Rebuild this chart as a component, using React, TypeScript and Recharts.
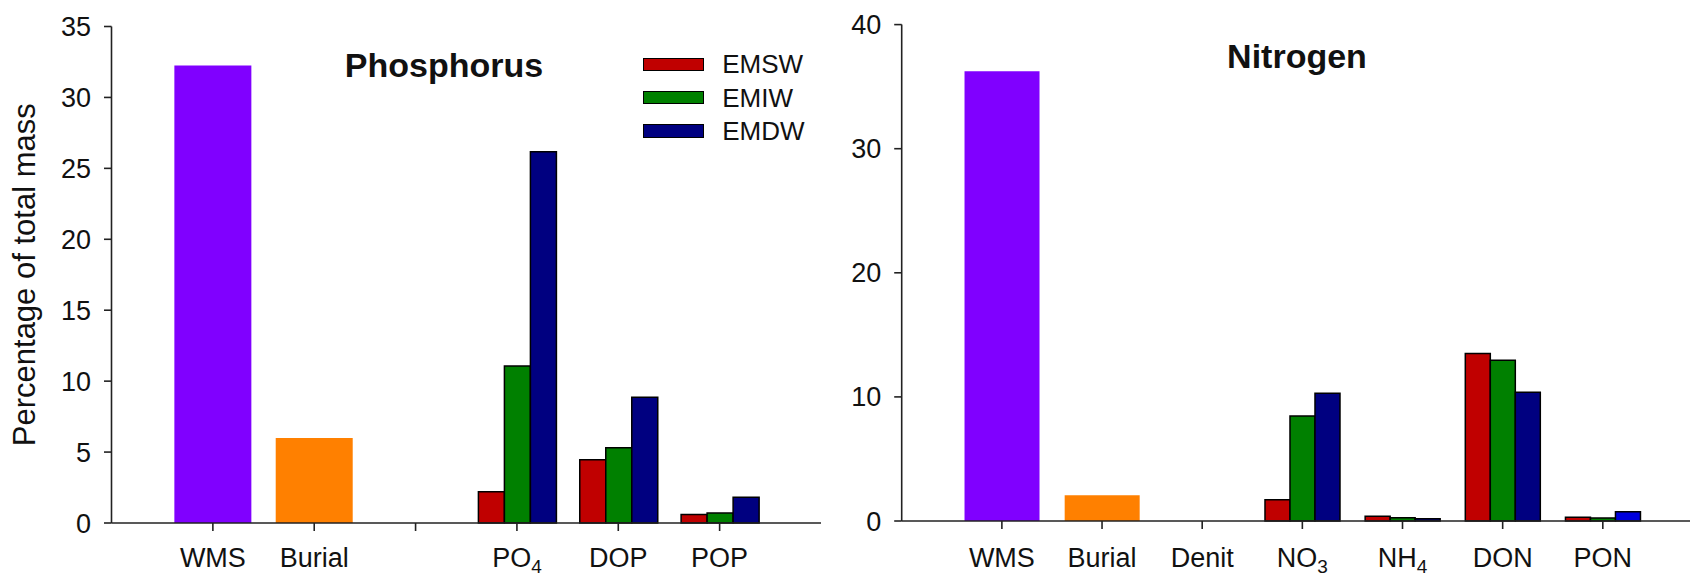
import React from 'react';
import { BarChart, Bar, XAxis, YAxis, Cell, Legend } from 'recharts';

const FONT = '"Liberation Sans", Arial, Helvetica, sans-serif';
const INK = '#111111';

// ---- Phosphorus panel ----
const pCategories = ['WMS', 'Burial', '', 'PO4', 'DOP', 'POP'];
const pSingle = [32.25, 6.0, null, null, null, null];
const pEMSW = [null, null, null, 2.2, 4.45, 0.6];
const pEMIW = [null, null, null, 11.07, 5.3, 0.7];
const pEMDW = [null, null, null, 26.17, 8.87, 1.81];
const pYTicks = [0, 5, 10, 15, 20, 25, 30, 35];

// ---- Nitrogen panel ----
const nCategories = ['WMS', 'Burial', 'Denit', 'NO3', 'NH4', 'DON', 'PON'];
const nSingle = [36.25, 2.08, null, null, null, null, null];
const nEMSW = [null, null, 0, 1.72, 0.39, 13.49, 0.3];
const nEMIW = [null, null, 0, 8.46, 0.27, 12.95, 0.24];
const nEMDW = [null, null, 0, 10.3, 0.18, 10.38, 0.75];
const nYTicks = [0, 10, 20, 30, 40];

const singleColors = ['#8000FF', '#FF8000'];
const seriesNames = ['EMSW', 'EMIW', 'EMDW'];
const seriesColors = ['#C00000', '#008000', '#000080'];
const pEMDWColors = ['#000080', '#000080', '#000080', '#000080', '#000080', '#000080'];
const nEMDWColors = ['#000080', '#000080', '#000080', '#000080', '#000080', '#000080', '#0000DD'];

const pData = pCategories.map((cat, i) => ({
  cat,
  single: pSingle[i],
  EMSW: pEMSW[i],
  EMIW: pEMIW[i],
  EMDW: pEMDW[i],
}));
const nData = nCategories.map((cat, i) => ({
  cat,
  single: nSingle[i],
  EMSW: nEMSW[i],
  EMIW: nEMIW[i],
  EMDW: nEMDW[i],
}));

const makeXTick = (dy: number) => (props: any) => {
  const { x, y, payload } = props;
  const label = String(payload.value ?? '');
  if (!label) return null;
  const m = label.match(/^([A-Z]+?)(\d)$/);
  return (
    <text x={x} y={y} dy={dy} textAnchor="middle" fontSize={27} fontFamily={FONT} fill={INK}>
      {m ? (
        <>
          {m[1]}
          <tspan fontSize={19} dy={6}>{m[2]}</tspan>
        </>
      ) : (
        label
      )}
    </text>
  );
};

const LegendContent = (props: any) => {
  const items = (props.payload || [])
    .filter((e: any) => seriesNames.includes(e.value))
    .sort((a: any, b: any) => seriesNames.indexOf(a.value) - seriesNames.indexOf(b.value));
  return (
    <div style={{ fontFamily: FONT, fontSize: 26, color: INK }}>
      {items.map((e: any) => (
        <div key={e.value} style={{ display: 'flex', alignItems: 'center', height: 33.4 }}>
          <span
            style={{
              display: 'inline-block',
              width: 61,
              height: 13.5,
              background: e.color,
              border: '1.5px solid #000',
              boxSizing: 'border-box',
              marginRight: 18.5,
            }}
          />
          <span style={{ lineHeight: '26px' }}>{e.value}</span>
        </div>
      ))}
    </div>
  );
};

const axisStroke = '#222';

function Panel(props: {
  data: any[];
  width: number;
  margin: any;
  yWidth: number;
  yDomain: number[];
  yTicks: number[];
  pad: number;
  gap: string;
  tickDy: number;
  emdwColors: string[];
  yLabel?: string;
  title: string;
  titleX: number;
  titleY: number;
  showLegend?: boolean;
}) {
  const {
    data, width, margin, yWidth, yDomain, yTicks, pad, gap, tickDy, emdwColors,
    yLabel, title, titleX, titleY, showLegend,
  } = props;
  return (
    <BarChart width={width} height={576} data={data} margin={margin} barCategoryGap={gap} barGap={0}>
      <XAxis
        dataKey="cat"
        xAxisId="main"
        height={40}
        interval={0}
        padding={{ left: pad, right: pad }}
        stroke={axisStroke}
        strokeWidth={1.6}
        tickSize={8}
        tickMargin={0}
        tickLine={{ stroke: axisStroke, strokeWidth: 1.6 }}
        tick={makeXTick(tickDy)}
      />
      <XAxis
        dataKey="cat"
        xAxisId="top"
        orientation="top"
        height={0}
        interval={0}
        padding={{ left: pad, right: pad }}
        stroke={axisStroke}
        strokeWidth={1.6}
        tick={false}
        tickLine={false}
      />
      <YAxis
        yAxisId="main"
        width={yWidth}
        domain={yDomain}
        ticks={yTicks}
        interval={0}
        type="number"
        stroke={axisStroke}
        strokeWidth={1.6}
        tickSize={7.5}
        tickMargin={13}
        tickLine={{ stroke: axisStroke, strokeWidth: 1.6 }}
        tick={{ fontSize: 27, fontFamily: FONT, fill: INK }}
        label={
          yLabel
            ? {
                value: yLabel,
                angle: -90,
                position: 'insideLeft',
                offset: 24,
                style: { textAnchor: 'middle', fontSize: 31, fontFamily: FONT, fill: INK },
              }
            : undefined
        }
      />
      <YAxis
        yAxisId="box"
        orientation="right"
        width={0}
        domain={[0, 1]}
        type="number"
        stroke={axisStroke}
        strokeWidth={1.6}
        tick={false}
        tickLine={false}
      />
      <Bar dataKey="single" xAxisId="top" yAxisId="main" legendType="none" isAnimationActive={false}>
        {data.map((_, i) => (
          <Cell key={i} fill={singleColors[i] || '#8000FF'} />
        ))}
      </Bar>
      <Bar dataKey="EMSW" name="EMSW" xAxisId="main" yAxisId="main" fill={seriesColors[0]} stroke="#000" strokeWidth={1.5} isAnimationActive={false} />
      <Bar dataKey="EMIW" name="EMIW" xAxisId="main" yAxisId="main" fill={seriesColors[1]} stroke="#000" strokeWidth={1.5} isAnimationActive={false} />
      <Bar dataKey="EMDW" name="EMDW" xAxisId="main" yAxisId="main" fill={seriesColors[2]} stroke="#000" strokeWidth={1.5} isAnimationActive={false}>
        {data.map((_, i) => (
          <Cell key={i} fill={emdwColors[i]} />
        ))}
      </Bar>
      {showLegend ? (
        <Legend
          layout="vertical"
          align="center"
          verticalAlign="middle"
          itemSorter={null as any}
          content={LegendContent}
          wrapperStyle={{ left: 642.7, top: 47.6, width: 'auto', height: 'auto' }}
        />
      ) : null}
      <text x={titleX} y={titleY} textAnchor="middle" fontSize={34} fontWeight="bold" fontFamily={FONT} fill={INK}>
        {title}
      </text>
    </BarChart>
  );
}

export default function App() {
  return (
    <div
      style={{
        position: 'absolute',
        left: 0,
        top: 0,
        width: 1690,
        height: 576,
        overflow: 'hidden',
        background: '#fff',
      }}
    >
      <div style={{ position: 'absolute', left: 0, top: 0 }}>
        <Panel
          data={pData}
          width={840}
          margin={{ top: 26.5, right: 19, bottom: 13, left: 0 }}
          yWidth={111.5}
          yDomain={[0, 35]}
          yTicks={pYTicks}
          pad={50.7}
          gap="12%"
          tickDy={36}
          emdwColors={pEMDWColors}
          yLabel="Percentage of total mass"
          title="Phosphorus"
          titleX={444}
          titleY={77}
          showLegend
        />
      </div>
      <div style={{ position: 'absolute', left: 840, top: 0 }}>
        <Panel
          data={nData}
          width={890}
          margin={{ top: 24.6, right: 27, bottom: 15, left: 0 }}
          yWidth={61.7}
          yDomain={[0, 40]}
          yTicks={nYTicks}
          pad={50.1}
          gap="12.7%"
          tickDy={38}
          emdwColors={nEMDWColors}
          title="Nitrogen"
          titleX={457}
          titleY={68}
        />
      </div>
    </div>
  );
}
